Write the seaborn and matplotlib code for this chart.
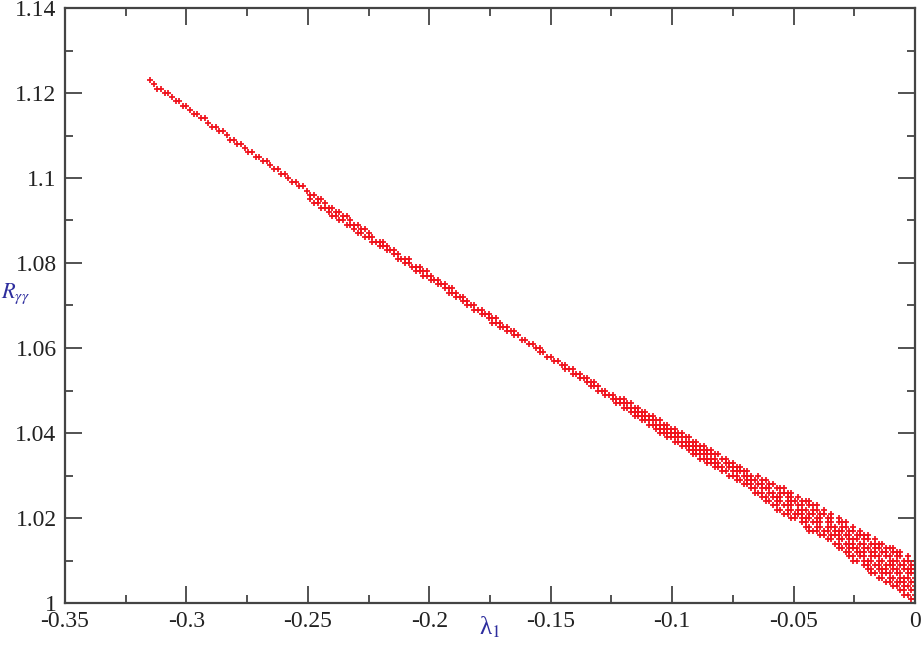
import matplotlib
matplotlib.use("Agg")
import matplotlib.pyplot as plt
import pandas as pd
import seaborn as sns
from matplotlib.ticker import MultipleLocator

# each row: (R_gamma_gamma, list of lambda_1 values in units of 1e-3)
# wide part of the band, near lambda_1 = 0
lower_rows = [
    (1.001, [-1.5, 0]),
    (1.002, [-4.5, -3, 0]),
    (1.003, [-6, -4.5, -1.5, 0]),
    (1.004, [-9, -7.5, -4.5, -3, 0]),
    (1.005, [-12, -10.5, -7.5, -6, -4.5, -1.5, 0]),
    (1.006, [-15, -13.5, -10.5, -9, -6, -4.5, -3, 0]),
    (1.007, [-18, -16.5, -13.5, -12, -10.5, -7.5, -6, -3, -1.5, 0]),
    (1.008, [-19.5, -18, -15, -13.5, -12, -9, -7.5, -4.5, -3, -1.5, 0]),
    (1.009, [-21, -19.5, -16.5, -15, -12, -10.5, -9, -6, -4.5, -1.5, 0]),
    (1.010, [-25.5, -24, -21, -19.5, -18, -15, -13.5, -10.5, -9, -7.5, -4.5, -3, 0]),
    (1.011, [-27, -25.5, -22.5, -21, -18, -16.5, -15, -12, -10.5, -7.5, -6, -3]),
    (1.012, [-28.5, -27, -24, -22.5, -21, -18, -16.5, -13.5, -12, -9, -7.5, -6]),
    (1.013, [-31.5, -30, -27, -25.5, -24, -21, -19.5, -16.5, -15, -12, -10.5, -9]),
    (1.014, [-33, -31.5, -28.5, -27, -25.5, -22.5, -21, -18, -16.5, -15, -13.5]),
    (1.015, [-36, -34.5, -31.5, -30, -27, -25.5, -24, -21, -19.5, -16.5]),
    (1.016, [-39, -37.5, -34.5, -33, -31.5, -28.5, -27, -24, -22.5, -21, -19.5]),
    (1.017, [-43.5, -42, -40.5, -37.5, -36, -33, -31.5, -30, -27, -25.5, -22.5]),
    (1.018, [-45, -43.5, -40.5, -39, -36, -34.5, -33, -30, -28.5, -25.5]),
    (1.019, [-46.5, -45, -42, -40.5, -39, -36, -34.5, -31.5, -30, -28.5]),
    (1.020, [-51, -49.5, -46.5, -45, -43.5, -40.5, -39, -36, -34.5, -31.5]),
    (1.021, [-54, -52.5, -49.5, -48, -46.5, -43.5, -42, -39, -37.5, -34.5]),
    (1.022, [-57, -55.5, -52.5, -51, -48, -46.5, -45, -42, -40.5, -37.5]),
    (1.023, [-58.5, -57, -54, -52.5, -51, -48, -46.5, -43.5, -42, -40.5]),
    (1.024, [-61.5, -60, -57, -55.5, -52.5, -51, -49.5, -46.5, -45, -43.5]),
    (1.025, [-63, -61.5, -58.5, -57, -55.5, -52.5, -51, -48]),
    (1.026, [-66, -64.5, -63, -60, -58.5, -55.5, -54, -52.5, -51]),
    (1.027, [-67.5, -66, -63, -61.5, -60, -57, -55.5, -54]),
    (1.028, [-70.5, -69, -67.5, -64.5, -63, -60, -58.5]),
    (1.029, [-73.5, -72, -69, -67.5, -66, -63, -61.5]),
    (1.030, [-76.5, -75, -73.5, -70.5, -69, -67.5, -64.5]),
    (1.031, [-79.5, -78, -75, -73.5, -72, -70.5, -69]),
    (1.032, [-82.5, -81, -79.5, -76.5, -75, -73.5, -72]),
    (1.033, [-85.5, -84, -82.5, -81, -78, -76.5, -75]),
    (1.034, [-88.5, -87, -85.5, -84, -82.5, -79.5, -78]),
    (1.035, [-91.5, -90, -88.5, -87, -85.5, -84, -82.5, -81]),
    (1.036, [-93, -91.5, -90, -88.5, -87, -85.5, -84]),
    (1.037, [-96, -94.5, -93, -91.5, -90, -88.5, -87]),
    (1.038, [-99, -97.5, -96, -94.5, -93, -91.5, -90]),
    (1.039, [-102, -100.5, -99, -97.5, -96, -94.5, -93]),
    (1.040, [-105, -103.5, -102, -100.5, -99, -97.5, -96]),
    (1.041, [-106.5, -105, -103.5, -102, -100.5, -99]),
    (1.042, [-109.5, -108, -106.5, -105, -103.5, -102]),
    (1.043, [-112.5, -111, -109.5, -108, -106.5, -105]),
    (1.044, [-115.5, -114, -112.5, -111, -109.5, -108]),
    (1.045, [-117, -115.5, -114, -112.5, -111]),
    (1.046, [-120, -118.5, -117, -115.5, -114]),
    (1.047, [-123, -121.5, -120, -118.5, -117]),
    (1.048, [-124.5, -123, -121.5, -120]),
]

# middle part, two or three points per row
middle_rows = [
    (1.049, [-127.5, -126, -124.5]),
    (1.050, [-130.5, -129, -127.5]),
    (1.051, [-133.5, -132, -130.5]),
    (1.052, [-135, -133.5, -132]),
    (1.053, [-138, -136.5, -135]),
    (1.054, [-141, -139.5, -138]),
    (1.055, [-144, -142.5, -141]),
    (1.056, [-145.5, -144]),
    (1.057, [-148.5, -147]),
    (1.058, [-151.5, -150]),
    (1.059, [-154.5, -153]),
    (1.060, [-156, -154.5]),
    (1.061, [-159, -157.5]),
    (1.062, [-162, -160.5]),
    (1.063, [-165, -163.5]),
    (1.064, [-168, -166.5, -165]),
    (1.065, [-171, -169.5, -168]),
    (1.066, [-174, -172.5, -171]),
    (1.067, [-175.5, -174, -172.5]),
    (1.068, [-178.5, -177, -175.5]),
    (1.069, [-181.5, -180, -178.5]),
    (1.070, [-184.5, -183, -181.5]),
    (1.071, [-186, -184.5]),
    (1.072, [-189, -187.5, -186]),
    (1.073, [-192, -190.5, -189]),
    (1.074, [-193.5, -192, -190.5]),
    (1.075, [-196.5, -195, -193.5]),
    (1.076, [-199.5, -198, -196.5]),
    (1.077, [-202.5, -201, -199.5]),
    (1.078, [-205.5, -204, -202.5, -201]),
    (1.079, [-207, -205.5, -204]),
    (1.080, [-210, -208.5]),
    (1.081, [-213, -211.5, -210, -208.5]),
    (1.082, [-214.5, -213]),
    (1.083, [-217.5, -216, -214.5]),
    (1.084, [-220.5, -219, -217.5]),
    (1.085, [-223.5, -222, -220.5, -219]),
    (1.086, [-226.5, -225, -223.5]),
    (1.087, [-229.5, -228, -225]),
    (1.088, [-231, -228, -226.5]),
    (1.089, [-234, -232.5, -231, -229.5]),
    (1.090, [-237, -235.5, -232.5]),
    (1.091, [-240, -238.5, -235.5, -234]),
    (1.092, [-241.5, -238.5, -237]),
    (1.093, [-244.5, -243, -241.5, -240]),
    (1.094, [-247.5, -246, -243]),
    (1.095, [-249, -246, -244.5]),
    (1.096, [-249, -247.5]),
]

# thin tail at large negative lambda_1
upper_rows = [
    (1.097, [-250.5]),
    (1.098, [-253.5, -252]),
    (1.099, [-256.5, -255]),
    (1.100, [-258]),
    (1.101, [-261, -259.5]),
    (1.102, [-264, -262.5]),
    (1.103, [-265.5]),
    (1.104, [-268.5, -267]),
    (1.105, [-271.5, -270]),
    (1.106, [-274.5, -273]),
    (1.107, [-276]),
    (1.108, [-279, -277.5]),
    (1.109, [-282, -280.5]),
    (1.110, [-283.5]),
    (1.111, [-286.5, -285]),
    (1.112, [-289.5, -288]),
    (1.113, [-291]),
    (1.114, [-294, -292.5]),
    (1.115, [-297, -295.5]),
    (1.116, [-298.5]),
    (1.117, [-301.5, -300]),
    (1.118, [-304.5, -303]),
    (1.119, [-306]),
    (1.120, [-309, -307.5]),
    (1.121, [-312, -310.5]),
    (1.122, [-313.5]),
    (1.123, [-315]),
]

x_ticks = [-0.35, -0.3, -0.25, -0.2, -0.15, -0.1, -0.05, 0]
x_tick_labels = ["-0.35", "-0.3", "-0.25", "-0.2", "-0.15", "-0.1", "-0.05", "0"]
y_ticks = [1.0, 1.02, 1.04, 1.06, 1.08, 1.1, 1.12, 1.14]
y_tick_labels = ["1", "1.02", "1.04", "1.06", "1.08", "1.1", "1.12", "1.14"]


def rows_to_frame(rows):
    recs = []
    for r, lams in rows:
        for lam in lams:
            recs.append({"lambda_1": lam / 1000.0, "R": r})
    return pd.DataFrame(recs)


df = pd.concat([rows_to_frame(lower_rows), rows_to_frame(middle_rows),
                rows_to_frame(upper_rows)], ignore_index=True)

sns.set_theme(style="ticks")
plt.rcParams["font.family"] = ["Liberation Serif", "DejaVu Serif"]
plt.rcParams["mathtext.fontset"] = "stix"
plt.rcParams["axes.unicode_minus"] = False

fig = plt.figure(figsize=(9.22, 6.45), dpi=100)
ax = fig.add_axes([65 / 922, 1 - 603 / 645, 850 / 922, 595 / 645])

sns.scatterplot(data=df, x="lambda_1", y="R", marker="+", s=15, color="#f0121c",
                linewidth=1.25, ax=ax, legend=False)

ax.set_xlim(-0.35, 0)
ax.set_ylim(1.0, 1.14)
ax.set_xticks(x_ticks)
ax.set_xticklabels(x_tick_labels)
ax.set_yticks(y_ticks)
ax.set_yticklabels(y_tick_labels)
ax.xaxis.set_minor_locator(MultipleLocator(0.025))
ax.yaxis.set_minor_locator(MultipleLocator(0.01))
ax.tick_params(which="both", direction="in", top=True, right=True,
               color="#444444", labelcolor="#222222", width=1.3)
ax.tick_params(which="major", length=12, pad=6, labelsize=17)
ax.tick_params(which="minor", length=6)
for s in ax.spines.values():
    s.set_linewidth(1.6)
    s.set_color("#444444")

ax.set_xlabel("")
ax.set_ylabel("")
label_color = "#2e2e9e"
ax.text(0.5, -0.041, "λ$_1$", transform=ax.transAxes, ha="center", va="center",
        fontsize=18, color=label_color)
ax.text(-0.075, 0.52, r"$R_{\gamma\gamma}$", transform=ax.transAxes, ha="left", va="center",
        fontsize=16, color=label_color)

fig.savefig("out.png", dpi=100)
